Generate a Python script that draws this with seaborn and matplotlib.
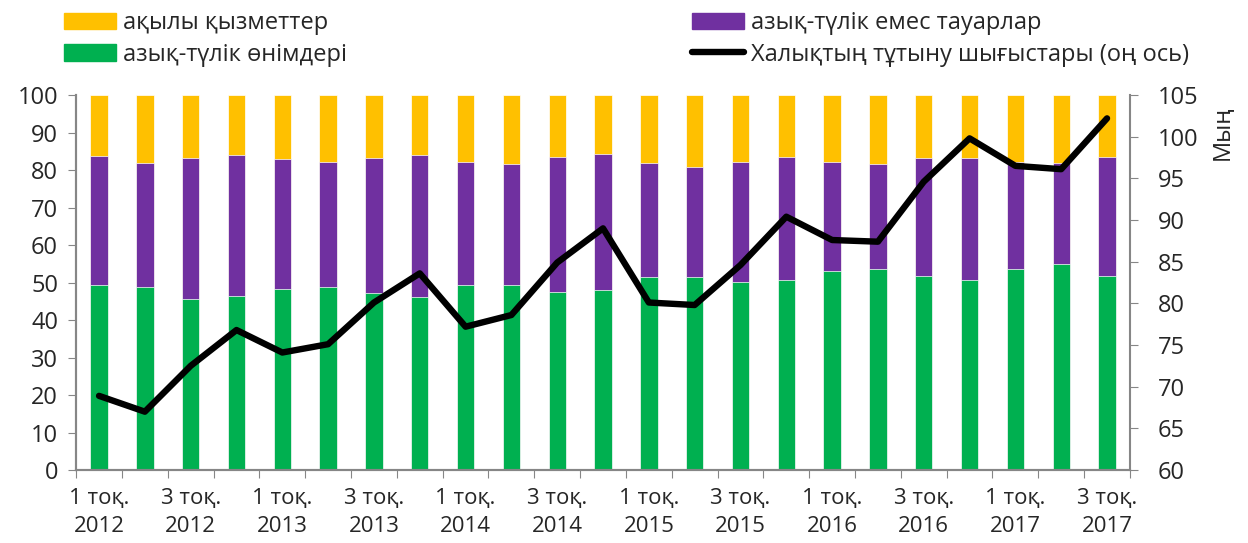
import seaborn as sns
import matplotlib.pyplot as plt
import matplotlib.patches as mpatches
import matplotlib.lines as mlines
import pandas as pd
import numpy as np

# quarters 2012 Q1 .. 2017 Q3
quarters = [f"{q} тоқ. {y}" for y in range(2012, 2018) for q in range(1, 5)][:23]
tick_labels = ["1 тоқ.\n2012", "", "3 тоқ.\n2012", "", "1 тоқ.\n2013", "", "3 тоқ.\n2013", "",
               "1 тоқ.\n2014", "", "3 тоқ.\n2014", "", "1 тоқ.\n2015", "", "3 тоқ.\n2015", "",
               "1 тоқ.\n2016", "", "3 тоқ.\n2016", "", "1 тоқ.\n2017", "", "3 тоқ.\n2017"]

# shares, %
food = [49.3, 48.8, 45.6, 46.4, 48.3, 48.8, 47.2, 46.1, 49.3, 49.3, 47.5, 48.0,
        51.5, 51.5, 50.1, 50.7, 53.1, 53.6, 51.7, 50.7, 53.6, 54.9, 51.7]
nonfood = [34.4, 33.0, 37.7, 37.6, 34.6, 33.3, 35.9, 38.0, 32.8, 32.3, 36.0, 36.3,
           30.3, 29.4, 32.0, 32.8, 29.0, 28.1, 31.6, 32.6, 28.5, 26.9, 31.8]
services = [16.3, 18.2, 16.7, 16.0, 17.1, 17.9, 16.9, 15.9, 17.9, 18.4, 16.5, 15.7,
            18.2, 19.1, 17.9, 16.5, 17.9, 18.3, 16.7, 16.7, 17.9, 18.2, 16.5]
# consumer spending, thousand (right axis)
spending = [68.9, 67.0, 72.5, 76.8, 74.1, 75.1, 80.1, 83.6, 77.2, 78.6, 84.9, 89.0,
            80.1, 79.8, 84.6, 90.4, 87.6, 87.4, 94.6, 99.8, 96.5, 96.1, 102.2]

YELLOW = "#FFC000"
PURPLE = "#7030A0"
GREEN = "#00B050"
GREY = "#868686"
FS = 17

df = pd.DataFrame({"quarter": quarters, "food": food, "nonfood": nonfood,
                   "services": services, "spending": spending})
df["top_nonfood"] = df["food"] + df["nonfood"]
df["top_services"] = df["top_nonfood"] + df["services"]

sns.set_style("white")
plt.rcParams['font.family'] = ['Open Sans', 'DejaVu Sans']

fig = plt.figure(figsize=(12.48, 5.43), dpi=100)
ax = fig.add_axes([0.061, 0.1344, 0.8444, 0.6906])

bar_w = 0.38
sns.barplot(data=df, x="quarter", y="top_services", color=YELLOW, width=bar_w,
            saturation=1, ax=ax, edgecolor="white", linewidth=0.5)
sns.barplot(data=df, x="quarter", y="top_nonfood", color=PURPLE, width=bar_w,
            saturation=1, ax=ax, edgecolor="white", linewidth=0.5)
sns.barplot(data=df, x="quarter", y="food", color=GREEN, width=bar_w,
            saturation=1, ax=ax, edgecolor="white", linewidth=0.5)

ax.set_xlim(-0.5, len(quarters) - 0.5)
ax.set_ylim(0, 100)
ax.set_yticks(range(0, 101, 10))
ax.set_xlabel("")
ax.set_ylabel("")

# ticks between categories, labels at centers
ax.set_xticks(np.arange(-0.5, len(quarters), 1.0))
ax.set_xticklabels([])
ax.set_xticks(np.arange(len(quarters)), minor=True)
ax.set_xticklabels(tick_labels, minor=True, fontsize=16, linespacing=1.45)
ax.tick_params(axis="x", which="major", length=6, color=GREY, direction="out", bottom=True)
ax.tick_params(axis="x", which="minor", length=0, pad=13)
ax.tick_params(axis="y", length=6, color=GREY, direction="out", left=True,
               labelsize=FS, pad=7)

ax2 = ax.twinx()
sns.lineplot(x=np.arange(len(quarters)), y=df["spending"], ax=ax2, color="black",
             linewidth=4.6, solid_joinstyle="round", solid_capstyle="round", sort=False)
ax2.set_ylim(60, 105)
ax2.set_yticks(range(60, 106, 5))
ax2.set_ylabel("")
ax2.tick_params(axis="y", length=6, color=GREY, direction="out", right=True,
                labelsize=FS, pad=14)
ax2.set_xlim(-0.5, len(quarters) - 0.5)

for a in (ax, ax2):
    a.spines["top"].set_visible(False)
    for s in ("left", "right", "bottom"):
        a.spines[s].set_color(GREY)
        a.spines[s].set_linewidth(1.5)
ax.spines["right"].set_visible(False)

fig.text(0.98, 0.755, "Мың", rotation=90, fontsize=FS, ha="center", va="center")

handles = [
    mpatches.Patch(color=YELLOW, label="ақылы қызметтер"),
    mpatches.Patch(color=GREEN, label="азық-түлік өнімдері"),
    mpatches.Patch(color=PURPLE, label="азық-түлік емес тауарлар"),
    mlines.Line2D([], [], color="black", linewidth=4.6, solid_capstyle="round",
                  label="Халықтың тұтыну шығыстары (оң ось)"),
]
fig.legend(handles=handles, ncol=2, loc="upper left", bbox_to_anchor=(0.04, 1.005),
           frameon=False, fontsize=FS, handlelength=2.2, handletextpad=0.3,
           columnspacing=14.6, labelspacing=0.3, borderaxespad=0.2)

fig.savefig("out.png", dpi=100)
